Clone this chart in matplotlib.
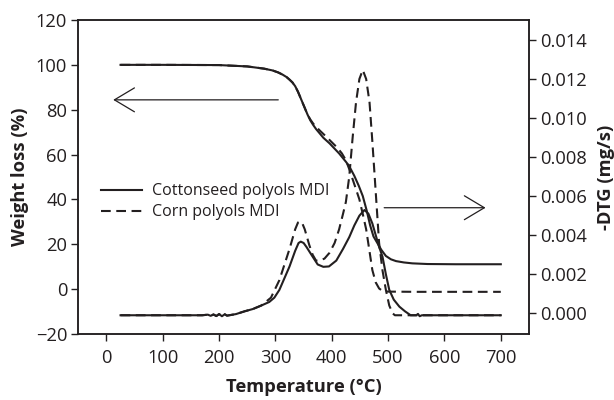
"""TGA / DTG comparison of cottonseed and corn polyol MDI foams."""

import matplotlib

matplotlib.use("Agg")

import matplotlib.pyplot as plt  # noqa: E402

INK = "#231f20"

# Weight loss (%) curves, temperature in deg C
tg_cotton_t = [25, 100, 200, 250, 280, 295, 305, 313, 320, 325, 330, 335,
               340, 346, 352, 357, 362, 367, 372, 385, 396, 413, 425, 431,
               440, 448, 455, 462, 468, 474, 481, 488, 496, 505, 514, 528,
               543, 570, 620, 700]
tg_cotton = [100, 100, 99.9, 99.3, 98.3, 97.5, 96.6, 95.6, 94.5, 93.4, 92.2,
             90.5, 88, 84.4, 80.8, 77.8, 75.2, 73.2, 71.4, 67.5, 65, 60.5,
             56.8, 54.8, 50.5, 46, 41.5, 35, 28.5, 23.5, 20.5, 17.5, 14.8,
             13.3, 12.5, 11.9, 11.5, 11.2, 11.1, 11.1]

tg_corn_t = [25, 100, 200, 250, 280, 295, 305, 313, 320, 325, 330, 335, 340,
             346, 352, 357, 362, 367, 372, 380, 390, 400, 410, 418, 425, 431,
             437, 443, 449, 455, 461, 467, 472, 478, 484, 490, 500, 550, 700]
tg_corn = [100, 100, 99.9, 99.3, 98.3, 97.5, 96.6, 95.6, 94.5, 93.4, 92.2,
           90.5, 88, 84.4, 80.8, 77.8, 75.6, 73.8, 72.4, 70.4, 68, 65.5, 63,
           60.5, 57.5, 53.5, 49, 44.5, 40, 33.5, 26.7, 16.8, 8.5, 3, 0.3, -0.8,
           -1.1, -1.2, -1.2]

# -DTG (mg/s) curves
dtg_cotton_t = [25, 100, 170, 180, 185, 190, 195, 200, 205, 210, 214, 230,
                245, 260, 275, 289, 298, 307, 316, 325, 335, 341, 345, 350,
                355, 366, 375, 385, 395, 408, 420, 431, 440, 449, 458, 465,
                472, 478, 484, 490, 496, 502, 510, 520, 530, 540, 550, 553,
                556, 560, 600, 700]
dtg_cotton = [-0.0001, -0.0001, -0.0001, -0.00007, -0.00013, -0.00006,
              -0.00014, -0.00004, -0.00015, -0.00005, -0.00012, -0.00004,
              0.0001, 0.00022, 0.0004, 0.00058, 0.0008, 0.0012, 0.0018,
              0.0024, 0.0032, 0.0036, 0.00367, 0.0036, 0.0034, 0.0029, 0.0025,
              0.00238, 0.0024, 0.0027, 0.0033, 0.0039, 0.0045, 0.005, 0.00529,
              0.0051, 0.0046, 0.004, 0.0034, 0.0029, 0.002, 0.0012, 0.0007,
              0.00034, 0.0001, -0.0001, -0.0001, -0.00003, -0.00015, -0.0001,
              -0.0001, -0.0001]

dtg_corn_t = [25, 100, 170, 180, 185, 190, 195, 200, 205, 210, 214, 230, 245,
              260, 275, 292, 307, 316, 325, 335, 340, 343, 347, 352, 360, 366,
              372, 378, 387, 396, 405, 413, 420, 425, 431, 437, 443, 449, 455,
              461, 467, 472, 478, 484, 490, 496, 502, 508, 512, 600, 700]
dtg_corn = [-0.0001, -0.0001, -0.0001, -0.00007, -0.00013, -0.00006,
            -0.00014, -0.00004, -0.00015, -0.00005, -0.00012, -0.00004, 0.0001,
            0.00022, 0.0004, 0.0008, 0.0017, 0.0025, 0.0033, 0.0043, 0.00465,
            0.0047, 0.00465, 0.0043, 0.0035, 0.003, 0.0027, 0.0027, 0.0028,
            0.0031, 0.0036, 0.0043, 0.0051, 0.0057, 0.007, 0.009, 0.0108,
            0.012, 0.01246, 0.012, 0.0108, 0.0088, 0.0062, 0.0036, 0.0022,
            0.0012, 0.0004, 0.0, -0.0001, -0.0001, -0.0001]

x_ticks = [0, 100, 200, 300, 400, 500, 600, 700]
left_ticks = [-20, 0, 20, 40, 60, 80, 100, 120]
right_ticks = [0.000, 0.002, 0.004, 0.006, 0.008, 0.010, 0.012, 0.014]

plt.rcParams["font.family"] = ["Open Sans", "DejaVu Sans"]
plt.rcParams["lines.scale_dashes"] = False

fig = plt.figure(figsize=(6.14, 4.0), dpi=100)
ax = fig.add_axes([0.1275, 0.165, 0.734, 0.785])
ax2 = ax.twinx()

dash = (0, (7, 4))
ax.plot(tg_cotton_t, tg_cotton, color=INK, lw=1.5,
        label="Cottonseed polyols MDI")
ax.plot(tg_corn_t, tg_corn, color=INK, lw=1.5, linestyle=dash,
        label="Corn polyols MDI")
ax2.plot(dtg_cotton_t, dtg_cotton, color=INK, lw=1.5)
ax2.plot(dtg_corn_t, dtg_corn, color=INK, lw=1.5, linestyle=dash)

ax.set_xlim(-50, 750)
ax.set_ylim(-20, 120)
ax2.set_ylim(-0.00106, 0.01502)
ax.set_xticks(x_ticks)
ax.set_yticks(left_ticks)
ax2.set_yticks(right_ticks)
ax2.set_yticklabels([f"{v:.3f}" for v in right_ticks])

for a in (ax, ax2):
    a.tick_params(direction="out", length=5, width=1.0, colors=INK,
                  labelsize=13.2, pad=3)
    for s in a.spines.values():
        s.set_color(INK)
        s.set_linewidth(1.1)
ax.tick_params(axis="x", pad=6)

ax.set_xlabel("Temperature (\u00b0C)", fontsize=13.2, fontweight="bold",
              color=INK, labelpad=8)
ax.set_ylabel("Weight loss (%)", fontsize=13.2, fontweight="bold",
              color=INK, labelpad=5)
ax2.set_ylabel("-DTG (mg/s)", fontsize=13.2, fontweight="bold",
               color=INK, labelpad=7)

# direction arrows: TG belongs to the left axis, DTG to the right one
arrow = dict(arrowstyle="->, head_length=0.72, head_width=0.43", lw=0.9,
             color=INK, shrinkA=0, shrinkB=0, mutation_scale=20)
ax.annotate("", xy=(12, 84.4), xytext=(305, 84.4), arrowprops=arrow)
ax.annotate("", xy=(673, 36.3), xytext=(493, 36.3), arrowprops=arrow)

ax.legend(loc="upper left", bbox_to_anchor=(0.036, 0.50), frameon=False,
          fontsize=11.5, handlelength=2.6, handletextpad=0.6,
          labelspacing=0.3, borderaxespad=0, labelcolor=INK)

fig.savefig("out.png", dpi=100)
